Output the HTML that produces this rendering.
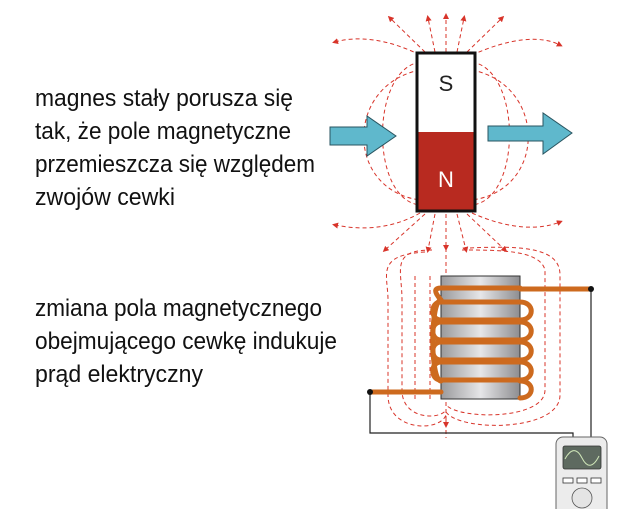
<!DOCTYPE html>
<html><head><meta charset="utf-8"><style>
html,body{margin:0;padding:0;background:#fff;width:627px;height:509px;overflow:hidden}
</style></head><body>
<svg width="627" height="509" viewBox="0 0 627 509" xmlns="http://www.w3.org/2000/svg">
<defs>
<linearGradient id="core" x1="0" x2="1"><stop offset="0" stop-color="#9a9a9c"/><stop offset=".5" stop-color="#e6e6e8"/><stop offset="1" stop-color="#8d8d90"/></linearGradient>
<marker id="ah" markerWidth="6" markerHeight="6" refX="3" refY="3" orient="auto"><path d="M0,0L6,3L0,6z" fill="#d8342a"/></marker>
</defs>
<g font-family="Liberation Sans Narrow, Liberation Sans, sans-serif" font-size="24" fill="#111">
<text x="35" y="106" textLength="258" lengthAdjust="spacingAndGlyphs">magnes stały porusza się</text>
<text x="35" y="139" textLength="256" lengthAdjust="spacingAndGlyphs">tak, że pole magnetyczne</text>
<text x="35" y="172" textLength="280" lengthAdjust="spacingAndGlyphs">przemieszcza się względem</text>
<text x="35" y="205" textLength="140" lengthAdjust="spacingAndGlyphs">zwojów cewki</text>
<text x="35" y="316" textLength="287" lengthAdjust="spacingAndGlyphs">zmiana pola magnetycznego</text>
<text x="35" y="349" textLength="302" lengthAdjust="spacingAndGlyphs">obejmującego cewkę indukuje</text>
<text x="35" y="382" textLength="168" lengthAdjust="spacingAndGlyphs">prąd elektryczny</text>
</g>
<g fill="none" stroke="#d8342a" stroke-width="1" stroke-dasharray="4,3">
<!-- magnet field loops -->
<path d="M420,62 C370,70 370,200 420,205"/>
<path d="M420,70 C345,85 345,190 420,200"/>
<path d="M472,62 C522,70 522,200 472,205"/>
<path d="M472,70 C547,85 547,190 472,200"/>
<path d="M420,55 C390,40 360,35 335,42" marker-end="url(#ah)"/>
<path d="M472,55 C510,38 540,35 560,45" marker-end="url(#ah)"/>
<path d="M425,52 L390,18" marker-end="url(#ah)"/>
<path d="M435,52 L428,18" marker-end="url(#ah)"/>
<path d="M446,52 L446,16" marker-end="url(#ah)"/>
<path d="M457,52 L464,18" marker-end="url(#ah)"/>
<path d="M467,52 L502,18" marker-end="url(#ah)"/>
<path d="M420,213 C390,230 360,230 335,225" marker-end="url(#ah)"/>
<path d="M472,213 C510,230 540,230 560,222" marker-end="url(#ah)"/>
<path d="M425,214 L385,250" marker-end="url(#ah)"/>
<path d="M435,214 L428,250" marker-end="url(#ah)"/>
<path d="M446,214 L446,248" marker-end="url(#ah)"/>
<path d="M457,214 L466,250" marker-end="url(#ah)"/>
<path d="M467,214 L505,250" marker-end="url(#ah)"/>
<!-- coil field -->
<path d="M446,248 L446,438"/>
<path d="M432,250 C390,250 402,270 402,300 L402,390 C402,420 440,420 446,410"/>
<path d="M425,252 C375,255 388,275 388,300 L388,395 C388,432 440,432 446,415"/>
<path d="M462,250 C500,250 540,250 545,270 L545,390 C545,420 460,420 446,405"/>
<path d="M470,248 C530,245 560,250 560,275 L560,395 C560,432 460,432 446,412"/>
<path d="M456,276 L456,400 M468,276 L468,400 M480,276 L480,400 M494,276 L494,400 M506,276 L506,400 M430,276 L430,400 M415,276 L415,400"/>
<path d="M446,420 L446,425" marker-end="url(#ah)"/>
</g>
<!-- magnet -->
<rect x="417" y="53" width="58" height="158" fill="#fff" stroke="#111" stroke-width="3"/>
<rect x="418.5" y="132" width="55" height="77.5" fill="#b82a20"/>
<text x="446" y="91" font-family="Liberation Sans, sans-serif" font-size="22" text-anchor="middle" fill="#222">S</text>
<text x="446" y="187" font-family="Liberation Sans, sans-serif" font-size="22" text-anchor="middle" fill="#fff">N</text>
<!-- arrows -->
<path d="M330,127 L367,127 L367,116 L396,136 L367,156 L367,145 L330,145z" fill="#5fb8cc" stroke="#2a5560" stroke-width="1"/>
<path d="M488,126 L543,126 L543,113 L572,133 L543,154 L543,141 L488,141z" fill="#5fb8cc" stroke="#2a5560" stroke-width="1"/>
<!-- wires -->
<g fill="none" stroke="#222" stroke-width="1.2">
<path d="M370,392 L370,433 L573,433 L573,438"/>
<path d="M591,289 L591,438"/>
</g>
<!-- coil core -->
<rect x="441" y="276" width="79" height="123" fill="url(#core)" stroke="#333" stroke-width="1"/>
<g fill="none" stroke="#cd6a1e" stroke-width="5" stroke-linecap="round">
<path d="M370,392 L441,392"/>
<path d="M520,289 L591,289"/>
<path d="M520,302 C535,302 535,320 520,320 L441,320 C430,320 430,302 441,302 L520,302"/>
<path d="M520,322 C535,322 535,340 520,340 L441,340 C430,340 430,322 441,322 Z"/>
<path d="M520,342 C535,342 535,360 520,360 L441,360 C430,360 430,342 441,342 Z"/>
<path d="M520,362 C535,362 535,380 520,380 L441,380 C430,380 430,362 441,362 Z"/>
<path d="M520,381 C535,381 535,398 520,398 M441,381 C430,381 430,300 441,300"/>
<path d="M441,300 C432,290 436,288 441,288 L520,288"/>
</g>
<circle cx="370" cy="392" r="3" fill="#111"/>
<circle cx="591" cy="289" r="3" fill="#111"/>
<!-- meter -->
<rect x="556" y="437" width="51" height="80" rx="7" fill="#ececec" stroke="#666" stroke-width="1"/>
<rect x="563" y="446" width="38" height="23" rx="2" fill="#5e6a60" stroke="#333" stroke-width=".8"/>
<path d="M565,459 C571,448 577,448 582,458 C587,468 593,468 599,456" fill="none" stroke="#cfe6b8" stroke-width="1"/>
<rect x="563" y="478" width="10" height="5" fill="#fff" stroke="#333" stroke-width=".8"/>
<rect x="577" y="478" width="10" height="5" fill="#fff" stroke="#333" stroke-width=".8"/>
<rect x="591" y="478" width="10" height="5" fill="#fff" stroke="#333" stroke-width=".8"/>
<circle cx="582" cy="498" r="10" fill="#e4e4e4" stroke="#555" stroke-width=".8"/>
</svg>
</body></html>
